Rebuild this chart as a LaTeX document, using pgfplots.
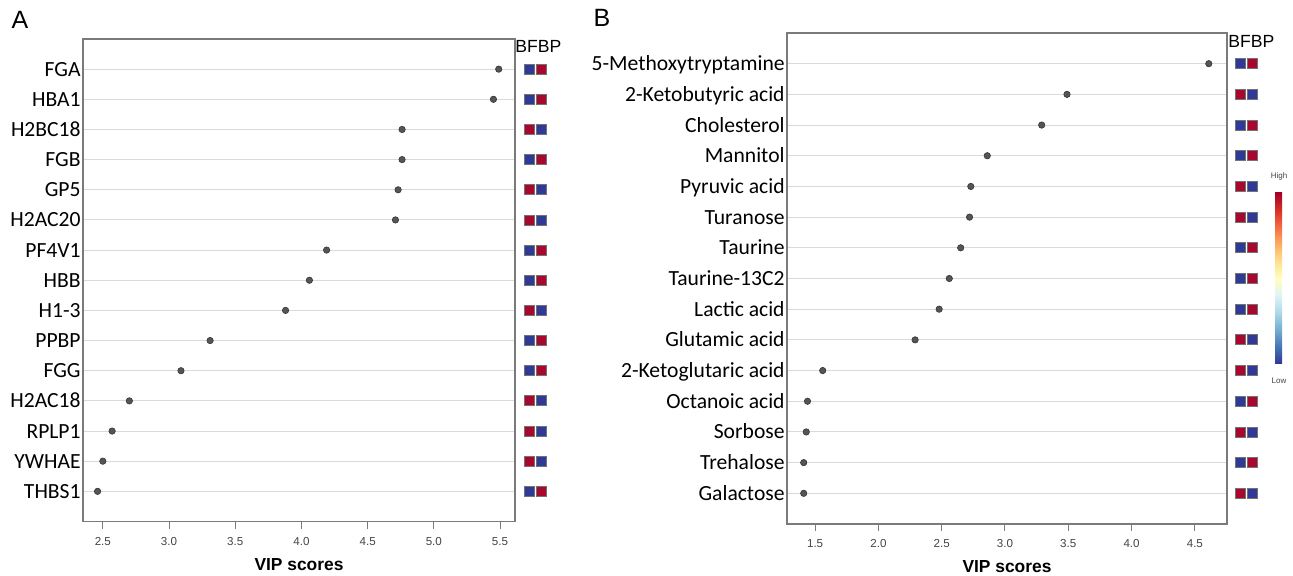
\documentclass[border=0pt]{standalone}
\usepackage{fontspec}
\setmainfont{Liberation Sans}
\newfontfamily\calibri{Carlito}
\usepackage{pgfplots}
\pgfplotsset{compat=1.18}
\usepackage{pgfplotstable}

\definecolor{dotc}{HTML}{555555}
\definecolor{hi}{HTML}{A8072E}
\definecolor{lo}{HTML}{2F3A96}
\definecolor{gridc}{HTML}{DADADA}
\definecolor{boxc}{HTML}{7A7A7A}
\definecolor{tickc}{HTML}{444444}
\definecolor{c0}{HTML}{313695}
\definecolor{c1}{HTML}{4575B4}
\definecolor{c2}{HTML}{74ADD1}
\definecolor{c3}{HTML}{ABD9E9}
\definecolor{c4}{HTML}{E0F3F8}
\definecolor{c5}{HTML}{FFFFBF}
\definecolor{c6}{HTML}{FEE090}
\definecolor{c7}{HTML}{FDAE61}
\definecolor{c8}{HTML}{F46D43}
\definecolor{c9}{HTML}{D73027}
\definecolor{c10}{HTML}{A50026}
\pgfdeclareverticalshading{rdylbu}{100bp}{color(0bp)=(c0); color(25bp)=(c0); color(30bp)=(c1); color(35bp)=(c2); color(40bp)=(c3); color(45bp)=(c4); color(50bp)=(c5); color(55bp)=(c6); color(60bp)=(c7); color(65bp)=(c8); color(70bp)=(c9); color(75bp)=(c10); color(100bp)=(c10)}

\pgfplotstableread{
x y
5.49 1
5.45 2
4.76 3
4.76 4
4.73 5
4.71 6
4.19 7
4.06 8
3.88 9
3.31 10
3.09 11
2.70 12
2.57 13
2.50 14
2.46 15
}\vipA

\pgfplotstableread{
x y
4.61 1
3.49 2
3.29 3
2.86 4
2.73 5
2.72 6
2.65 7
2.56 8
2.48 9
2.29 10
1.56 11
1.44 12
1.43 13
1.41 14
1.41 15
}\vipB

\pgfplotstableread{
x y c
1 1 b
2 1 r
1 2 b
2 2 r
1 3 r
2 3 b
1 4 b
2 4 r
1 5 r
2 5 b
1 6 r
2 6 b
1 7 b
2 7 r
1 8 b
2 8 r
1 9 r
2 9 b
1 10 b
2 10 r
1 11 b
2 11 r
1 12 r
2 12 b
1 13 r
2 13 b
1 14 r
2 14 b
1 15 b
2 15 r
}\heatA

\pgfplotstableread{
x y c
1 1 b
2 1 r
1 2 r
2 2 b
1 3 b
2 3 r
1 4 b
2 4 r
1 5 r
2 5 b
1 6 r
2 6 b
1 7 b
2 7 r
1 8 b
2 8 r
1 9 b
2 9 r
1 10 r
2 10 b
1 11 r
2 11 b
1 12 b
2 12 r
1 13 r
2 13 b
1 14 b
2 14 r
1 15 r
2 15 b
}\heatB

\pgfplotsset{
  vipaxis/.style={
    scale only axis, anchor=south west,
    y dir=reverse, ymin=0, ymax=16, ytick={1,...,15},
    ymajorgrids, grid style={gridc, line width=0.5pt},
    axis line style={boxc, line width=0.6pt},
    tick align=outside, xtick pos=left,
    ytick style={draw=none},
    xtick style={boxc, line width=0.5pt},
    major tick length=3.5pt,
    xticklabel style={font=\fontsize{5.8}{7}\selectfont, color=tickc, anchor=center, yshift=-6.5pt,
      /pgf/number format/.cd, fixed, fixed zerofill, precision=1, assume math mode=true},
    yticklabel style={font=\calibri\fontsize{10.8}{12}\selectfont, anchor=base east, inner sep=0pt, xshift=2.5pt, yshift=-3.5pt},
    xlabel={VIP scores},
    xlabel style={font=\bfseries\fontsize{8.7}{10}\selectfont, at={(axis description cs:0.5,0)}, anchor=center, yshift=-21.5pt},
    clip=false,
  },
  heataxis/.style={
    scale only axis, anchor=south west, hide axis, width=12pt,
    xmin=0.5, xmax=2.5, ymin=0, ymax=16, y dir=reverse, clip=false,
  },
  heatplot/.style={
    scatter, only marks, scatter src=explicit symbolic,
    scatter/classes={
      b={mark=square*, fill=lo, draw=black!55, line width=0.4pt},
      r={mark=square*, fill=hi, draw=black!55, line width=0.4pt}},
    mark size=2.5pt,
  },
  dotplot/.style={only marks, mark=*, mark size=1.6pt, mark options={fill=dotc, draw=black!80, line width=0.3pt}},
}

\begin{document}
\begin{tikzpicture}
\path[use as bounding box] (0,0) rectangle (646.5pt,288pt);

% Panel A
\begin{axis}[vipaxis, at={(41.5pt,27.25pt)}, width=216pt, height=241.25pt,
  xmin=2.35, xmax=5.613, xtick={2.5,3.0,3.5,4.0,4.5,5.0,5.5},
  yticklabels={FGA,HBA1,H2BC18,FGB,GP5,H2AC20,PF4V1,HBB,H1-3,PPBP,FGG,H2AC18,RPLP1,YWHAE,THBS1}]
\addplot[dotplot] table[x=x,y=y]{\vipA};
\end{axis}
\begin{axis}[heataxis, at={(261.5pt,27.25pt)}, height=241.25pt]
\addplot[heatplot] table[x=x,y=y,meta=c]{\heatA};
\end{axis}
\node[anchor=west, inner sep=0pt, font=\fontsize{8.8}{10}\selectfont] at (257.5pt,265pt) {BFBP};
\node[font=\fontsize{12.5}{14}\selectfont] at (10pt,278pt) {A};

% Panel B
\begin{axis}[vipaxis, at={(393.5pt,26pt)}, width=220pt, height=245.5pt,
  xmin=1.278, xmax=4.754, xtick={1.5,2.0,2.5,3.0,3.5,4.0,4.5},
  yticklabels={5-Methoxytryptamine,2-Ketobutyric acid,Cholesterol,Mannitol,Pyruvic acid,Turanose,Taurine,Taurine-13C2,Lactic acid,Glutamic acid,2-Ketoglutaric acid,Octanoic acid,Sorbose,Trehalose,Galactose}]
\addplot[dotplot] table[x=x,y=y]{\vipB};
\end{axis}
\begin{axis}[heataxis, at={(617.25pt,26pt)}, height=245.5pt]
\addplot[heatplot] table[x=x,y=y,meta=c]{\heatB};
\end{axis}
\node[anchor=west, inner sep=0pt, font=\fontsize{8.8}{10}\selectfont] at (614pt,267.5pt) {BFBP};
\node[font=\fontsize{12.5}{14}\selectfont] at (301pt,279pt) {B};

% colour key
\shade[shading=rdylbu] (637.5pt,106pt) rectangle (641pt,191.5pt);
\node[font=\fontsize{4}{5}\selectfont, color=tickc] at (639.5pt,200pt) {High};
\node[font=\fontsize{4}{5}\selectfont, color=tickc] at (639.5pt,97.5pt) {Low};
\end{tikzpicture}
\end{document}
